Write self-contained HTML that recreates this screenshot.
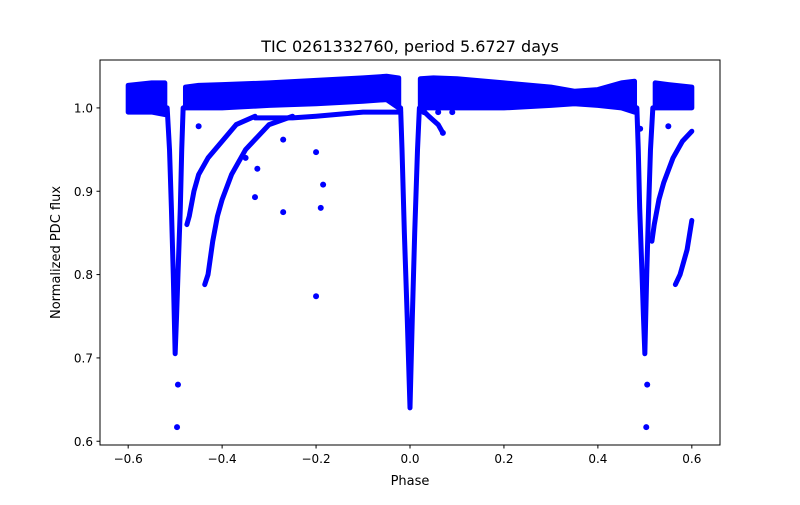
<!DOCTYPE html>
<html><head><meta charset="utf-8"><style>
body{margin:0;background:#fff;}
svg{font-family:"DejaVu Sans","Liberation Sans",sans-serif;}
</style></head><body>
<svg id="chart" width="800" height="500" xmlns="http://www.w3.org/2000/svg">
<rect width="800" height="500" fill="#fff"/>
<text x="410" y="52" text-anchor="middle" font-size="16">TIC 0261332760, period 5.6727 days</text>
<g id="plot"></g>
<rect x="100" y="60" width="620" height="385" fill="none" stroke="#000" stroke-width="1"/>
<g id="axes"></g>
<text x="410" y="485" text-anchor="middle" font-size="13">Phase</text>
<text transform="translate(60,252.5) rotate(-90)" text-anchor="middle" font-size="13">Normalized PDC flux</text>
</svg>
<script>
const xTicks=[-0.6,-0.4,-0.2,0.0,0.2,0.4,0.6];
const xTickLabels=["−0.6","−0.4","−0.2","0.0","0.2","0.4","0.6"];
const yTicks=[0.6,0.7,0.8,0.9,1.0];
const yTickLabels=["0.6","0.7","0.8","0.9","1.0"];
// band envelope: phase, lower flux, upper flux
const bandPhase=[-0.6,-0.55,-0.522];
const bandLow=[0.995,0.995,0.992];
const bandHigh=[1.027,1.03,1.03];
const band2Phase=[-0.478,-0.45,-0.4,-0.3,-0.2,-0.1,-0.05,-0.024];
const band2Low=[1.0,1.0,1.0,1.003,1.005,1.008,1.01,1.0];
const band2High=[1.025,1.027,1.028,1.03,1.033,1.036,1.038,1.036];
const band3Phase=[0.022,0.05,0.1,0.2,0.3,0.35,0.4,0.45,0.478];
const band3Low=[1.0,1.0,1.0,1.0,1.003,1.005,1.003,1.0,0.995];
const band3High=[1.035,1.036,1.035,1.03,1.025,1.02,1.022,1.03,1.032];
const band4Phase=[0.522,0.55,0.6];
const band4Low=[1.0,1.0,1.0];
const band4High=[1.03,1.028,1.025];
// dips
const dip1Phase=[-0.517,-0.512,-0.508,-0.504,-0.5,-0.497,-0.494,-0.489,-0.486,-0.483];
const dip1Flux=[1.0,0.95,0.88,0.8,0.705,0.75,0.8,0.88,0.95,1.0];
const dip2Phase=[-0.02,-0.017,-0.012,-0.006,0.0,0.005,0.01,0.016,0.02];
const dip2Flux=[1.0,0.95,0.85,0.75,0.64,0.75,0.85,0.95,1.0];
const dip3Phase=[0.483,0.486,0.489,0.494,0.497,0.5,0.504,0.508,0.512,0.517];
const dip3Flux=[1.0,0.95,0.88,0.8,0.75,0.705,0.8,0.88,0.95,1.0];
// tracks
const trackAPhase=[-0.437,-0.43,-0.42,-0.41,-0.4,-0.38,-0.35,-0.3,-0.25];
const trackAFlux=[0.788,0.8,0.84,0.87,0.89,0.92,0.95,0.98,0.99];
const trackBPhase=[-0.475,-0.47,-0.46,-0.45,-0.43,-0.4,-0.37,-0.33];
const trackBFlux=[0.86,0.87,0.9,0.92,0.94,0.96,0.98,0.99];
const trackCPhase=[-0.33,-0.25,-0.2,-0.1,-0.02];
const trackCFlux=[0.988,0.988,0.99,0.995,0.995];
const trackDPhase=[0.022,0.04,0.06,0.07];
const trackDFlux=[1.0,0.99,0.98,0.97];
const trackEPhase=[0.515,0.52,0.53,0.54,0.56,0.58,0.6];
const trackEFlux=[0.84,0.86,0.89,0.91,0.94,0.96,0.972];
const trackFPhase=[0.565,0.575,0.59,0.6];
const trackFFlux=[0.788,0.8,0.83,0.865];
const outPhase=[-0.325,-0.33,-0.27,-0.2,-0.185,-0.19,-0.2,-0.27,-0.35,-0.45,0.55,0.505,0.503,-0.494,-0.496,0.07,0.49,0.03,0.06,0.09];
const outFlux=[0.927,0.893,0.875,0.947,0.908,0.88,0.774,0.962,0.94,0.978,0.978,0.668,0.617,0.668,0.617,0.97,0.975,0.995,0.995,0.995];

const X=p=>100+(p+0.66)/1.32*620;
const Y=f=>445-(f-0.5955)/(1.0575-0.5955)*385;
const NS="http://www.w3.org/2000/svg";
const plot=document.getElementById('plot'), axes=document.getElementById('axes');
function mk(t,a,parent){const e=document.createElementNS(NS,t);for(const k in a)e.setAttribute(k,a[k]);parent.appendChild(e);return e;}
function band(ph,lo,hi,name){
  let pts=ph.map((p,i)=>X(p)+','+Y(hi[i]));
  for(let i=ph.length-1;i>=0;i--)pts.push(X(ph[i])+','+Y(lo[i]));
  const e=mk('polygon',{points:pts.join(' '),fill:'#0000ff',stroke:'#0000ff','stroke-width':5,'stroke-linejoin':'round'},plot);
  
  
}
band(bandPhase,bandLow,bandHigh,'band-segment-1');
band(band2Phase,band2Low,band2High,'band-segment-2');
band(band3Phase,band3Low,band3High,'band-segment-3');
band(band4Phase,band4Low,band4High,'band-segment-4');
function line(ph,fl,name){
  const e=mk('polyline',{points:ph.map((p,i)=>X(p)+','+Y(fl[i])).join(' '),fill:'none',stroke:'#0000ff','stroke-width':5,'stroke-linejoin':'round','stroke-linecap':'round'},plot);
  
  
}
line(dip1Phase,dip1Flux,'secondary-eclipse-left');
line(dip2Phase,dip2Flux,'primary-eclipse');
line(dip3Phase,dip3Flux,'secondary-eclipse-right');
line(trackAPhase,trackAFlux,'track-a');
line(trackBPhase,trackBFlux,'track-b');
line(trackCPhase,trackCFlux,'track-c');
line(trackDPhase,trackDFlux,'track-d');
line(trackEPhase,trackEFlux,'track-e');
line(trackFPhase,trackFFlux,'track-f');
outPhase.forEach((p,i)=>{
  const c=mk('circle',{cx:X(p),cy:Y(outFlux[i]),r:3,fill:'#0000ff'},plot);
  
  
});
xTicks.forEach((t,i)=>{
  const l=mk('line',{x1:X(t),x2:X(t),y1:445,y2:448.5,stroke:'#000'},axes);
  
  
  const s=mk('text',{x:X(t),y:463,'text-anchor':'middle','font-size':12},axes);
  s.textContent=xTickLabels[i];
  
  
});
yTicks.forEach((t,i)=>{
  const l=mk('line',{x1:96.5,x2:100,y1:Y(t),y2:Y(t),stroke:'#000'},axes);
  
  
  const s=mk('text',{x:93,y:Y(t)+4.5,'text-anchor':'end','font-size':12},axes);
  s.textContent=yTickLabels[i];
  
  
});
</script>
</body></html>
